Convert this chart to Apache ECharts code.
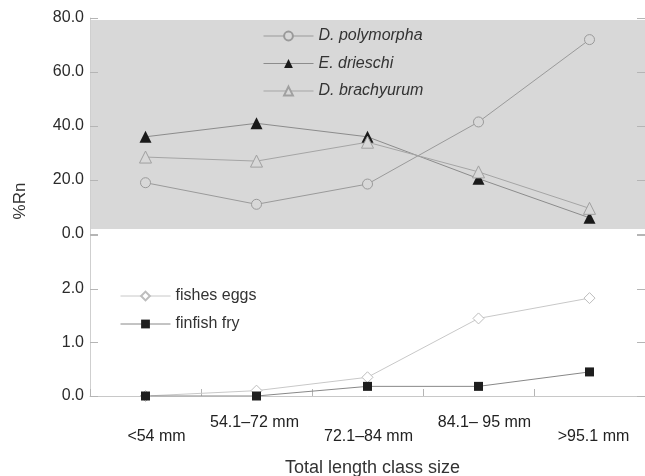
<!DOCTYPE html>
<html>
<head>
<meta charset="utf-8">
<script src="https://cdn.jsdelivr.net/npm/echarts@6/dist/echarts.min.js"></script>
<style>
html,body{margin:0;padding:0;background:#fff;}
#chart{width:645px;height:476px;}
</style>
</head>
<body>
<div id="chart"></div>
<script>
const categories = ['<54 mm', '54.1–72 mm', '72.1–84 mm', '84.1– 95 mm', '>95.1 mm'];
const polymorpha = [19, 11, 18.5, 41.5, 72];
const drieschi = [36, 41, 36, 20.5, 6];
const brachyurum = [28.5, 27, 34, 23, 9.5];
const fishesEggs = [0, 0.1, 0.35, 1.45, 1.83];
const finfishFry = [0, 0, 0.18, 0.18, 0.45];
const upperNames = ['D. polymorpha', 'E. drieschi', 'D. brachyurum'];
const lowerNames = ['fishes eggs', 'finfish fry'];
const yTitle = '%Rn';
const xTitle = 'Total length class size';

const F = '"Liberation Sans", Arial, sans-serif';
const chart = echarts.init(document.getElementById('chart'), null, {renderer: 'canvas'});

const labelPads = [[28,0,0,22],[0,4,0,0],[28,0,0,2],[0,0,0,12],[28,0,0,8]];
const rich = {};
labelPads.forEach((p, i) => {
  rich['s' + i] = {padding: p, fontSize: 16, color: '#222', fontFamily: F, lineHeight: 16};
});

const tickStyle = {show: true, inside: true, length: 8, lineStyle: {color: '#b5b5b5'}};

function yLeft(gridIndex, max, interval, hideTop) {
  return {
    type: 'value', gridIndex: gridIndex, min: 0, max: max, interval: interval, position: 'left',
    axisLine: {show: true, lineStyle: {color: '#cfcfcf'}},
    axisTick: tickStyle,
    splitLine: {show: false},
    axisLabel: {
      fontSize: 16, color: '#2b2b2b', fontFamily: F, margin: 6,
      formatter: v => (hideTop && v === max) ? '' : v.toFixed(1)
    }
  };
}
function yRight(gridIndex, max, interval) {
  return {
    type: 'value', gridIndex: gridIndex, min: 0, max: max, interval: interval, position: 'right',
    axisLine: {show: false}, axisTick: tickStyle, axisLabel: {show: false}, splitLine: {show: false}
  };
}

const option = {
  animation: false,
  backgroundColor: '#fff',
  textStyle: {fontFamily: F},
  title: {
    text: xTitle, left: 285, top: 459, padding: 0,
    textStyle: {fontSize: 18, fontWeight: 'normal', color: '#333', fontFamily: F}
  },
  graphic: [
    {type: 'rect', z: -10, silent: true, shape: {x: 91, y: 20, width: 560, height: 209}, style: {fill: '#d8d8d8'}},
    {type: 'text', x: 20.5, y: 201, rotation: Math.PI / 2,
     style: {text: yTitle, fontSize: 17, fill: '#333', fontFamily: F, align: 'center', verticalAlign: 'middle'}}
  ],
  grid: [
    {left: 90, right: -2, top: 18, height: 216},
    {left: 90, right: -2, top: 235.5, height: 160.5}
  ],
  legend: [
    {
      data: upperNames, orient: 'vertical', left: 263, top: 27, padding: 0,
      itemWidth: 50, itemHeight: 11, itemGap: 9.5,
      lineStyle: {width: 1},
      textStyle: {fontSize: 16, fontStyle: 'italic', color: '#333', fontFamily: F, lineHeight: 18}
    },
    {
      data: lowerNames, orient: 'vertical', left: 120, top: 287, padding: 0,
      itemWidth: 50, itemHeight: 11, itemGap: 10,
      lineStyle: {width: 1},
      textStyle: {fontSize: 16, color: '#333', fontFamily: F, lineHeight: 18}
    }
  ],
  xAxis: [
    {type: 'category', gridIndex: 0, data: categories, boundaryGap: true,
     axisLine: {show: false}, axisTick: {show: false}, axisLabel: {show: false}},
    {type: 'category', gridIndex: 1, data: categories, boundaryGap: true,
     axisLine: {show: true, lineStyle: {color: '#c8c8c8'}},
     axisTick: {show: true, inside: true, length: 7, lineStyle: {color: '#b5b5b5'}},
     axisLabel: {interval: 0, margin: 19, fontSize: 16, color: '#222', fontFamily: F,
       formatter: (v, i) => '{s' + i + '|' + v + '}', rich: rich}}
  ],
  yAxis: [
    yLeft(0, 80, 20, false),
    yLeft(1, 3, 1, true),
    yRight(0, 80, 20),
    yRight(1, 3, 1)
  ],
  series: [
    {name: upperNames[0], type: 'line', xAxisIndex: 0, yAxisIndex: 0, data: polymorpha,
     symbol: 'circle', symbolSize: 10,
     lineStyle: {color: '#9a9a9a', width: 1},
     itemStyle: {color: '#d8d8d8', borderColor: '#9a9a9a', borderWidth: 1}},
    {name: upperNames[1], type: 'line', xAxisIndex: 0, yAxisIndex: 0, data: drieschi,
     symbol: 'triangle', symbolSize: 12,
     lineStyle: {color: '#8c8c8c', width: 1},
     itemStyle: {color: '#1a1a1a', borderColor: '#1a1a1a', borderWidth: 0}},
    {name: upperNames[2], type: 'line', xAxisIndex: 0, yAxisIndex: 0, data: brachyurum,
     symbol: 'triangle', symbolSize: 12,
     lineStyle: {color: '#a5a5a5', width: 1},
     itemStyle: {color: '#d8d8d8', borderColor: '#a0a0a0', borderWidth: 1}},
    {name: lowerNames[0], type: 'line', xAxisIndex: 1, yAxisIndex: 1, data: fishesEggs,
     symbol: 'diamond', symbolSize: 11,
     lineStyle: {color: '#c8c8c8', width: 1},
     itemStyle: {color: '#ffffff', borderColor: '#bdbdbd', borderWidth: 1}},
    {name: lowerNames[1], type: 'line', xAxisIndex: 1, yAxisIndex: 1, data: finfishFry,
     symbol: 'rect', symbolSize: 9,
     lineStyle: {color: '#888888', width: 1},
     itemStyle: {color: '#1e1e1e', borderWidth: 0}}
  ]
};
chart.setOption(option);
</script>
</body>
</html>
